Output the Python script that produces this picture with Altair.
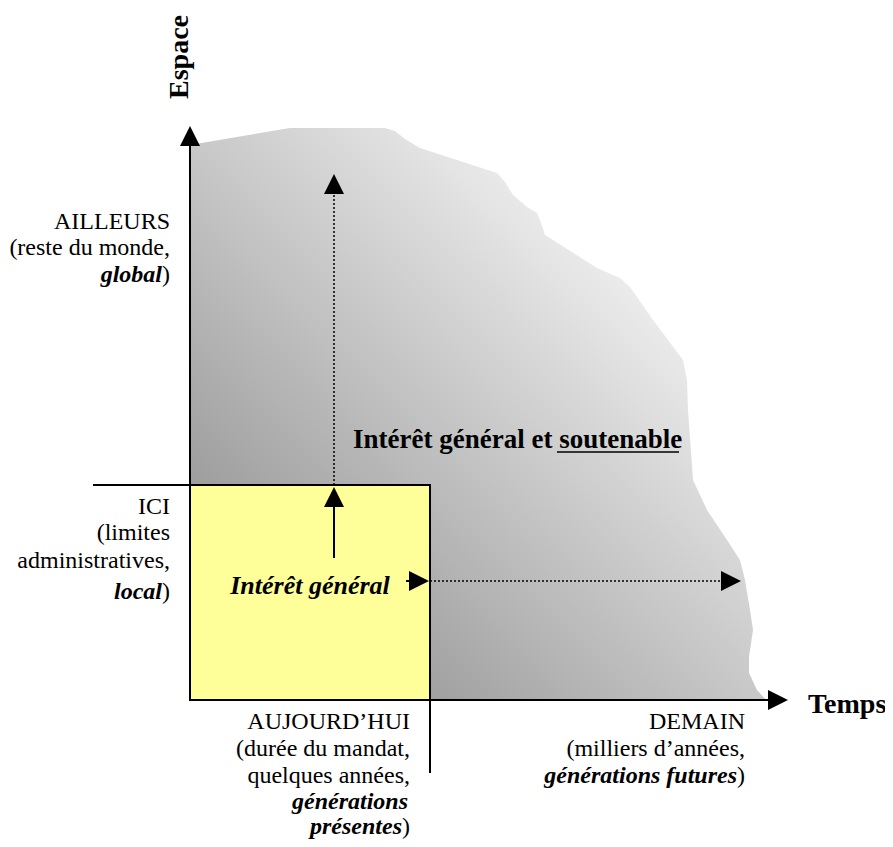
import altair as alt
import pandas as pd

# ---------------- data (time axis "t", space axis "s"; origin = axes crossing) ----------------
# grey region "Intérêt général et soutenable": for each space level s,
# its left edge (t_left) and its irregular right edge (t_right)
region_s = [572, 569, 561, 555, 552, 527, 518, 505, 493, 487, 480, 465, 432, 422, 413,
            380, 340, 320, 290, 220, 190, 160, 140, 120, 90, 70, 43, 27, 10, 0]
region_t_right = [195, 205, 215, 225, 230, 307, 315, 323, 337, 347, 350, 355, 407, 430, 440,
                  463, 493, 497, 498, 503, 517, 537, 550, 555, 560, 563, 559, 559, 567, 576]
region_t_left = [100, 82, 35, 0, 0, 0, 0, 0, 0, 0, 0, 0, 0, 0, 0,
                 0, 0, 0, 0, 0, 0, 0, 0, 0, 0, 0, 0, 0, 0, 0]

# limits of "ici / aujourd'hui" (yellow box)
box_t = [0, 240]
box_s = [0, 215]

# solid segments: axes, separators, solid arrow shafts
solid_t1 = [0, 0, -97, 240, 144, 216]
solid_t2 = [0, 580, 0, 240, 144, 222]
solid_s1 = [0, 0, 215, 0, 142, 119]
solid_s2 = [556, 0, 215, -73, 195, 119]

# dotted segments
dot_t1 = [144, 240]
dot_t2 = [144, 533]
dot_s1 = [215, 119]
dot_s2 = [508, 119]

# arrow heads
up_t = [0, 144, 144]
up_s = [564, 203, 516]
right_t = [588, 229, 541]
right_s = [0, 119, 119]

# texts
reg_text = ["AILLEURS", "(reste du monde,", ")", "ICI", "(limites", "administratives,", ")",
            "AUJOURD\u2019HUI", "(durée du mandat,", "quelques années,", ")",
            "DEMAIN", "(milliers d\u2019années,", ")"]
reg_t = [-20, -20, -20, -20, -20, -20, -20, 220, 220, 220, 220, 555, 555, 555]
reg_s = [478, 452, 425, 193, 167, 139, 108, -22, -49, -76, -127, -22, -49, -76]

bi_text = ["global", "local", "générations", "présentes", "générations futures"]
bi_t = [-28, -28, 218, 212, 547]
bi_s = [425, 108, -102, -127, -76]

bold_left_text = ["Temps", "Intérêt général et soutenable"]
bold_left_t = [618, 163]
bold_left_s = [-5, 260]
bold_left_size = [28, 27]

axis_title = ["Espace"]
axis_title_t = [-10]
axis_title_s = [643]

center_text = ["Intérêt général"]
center_t = [120]
center_s = [114]

underline_t = [367, 489]
underline_s = [248, 248]

# ---------------- chart ----------------
XS = alt.Scale(domain=[-182, 695], nice=False, zero=False)
YS = alt.Scale(domain=[-139, 692], nice=False, zero=False)


def X(f):
    return alt.X(f, type="quantitative", scale=XS, axis=None)


def Y(f):
    return alt.Y(f, type="quantitative", scale=YS, axis=None)


FONT = "Liberation Serif"

region_df = pd.DataFrame({"s": region_s, "tr": region_t_right, "tl": region_t_left})
grad = alt.LinearGradient(
    gradient="linear",
    stops=[alt.GradientStop(color="#838383", offset=0),
           alt.GradientStop(color="#c9c9c9", offset=0.5),
           alt.GradientStop(color="#ececec", offset=0.75),
           alt.GradientStop(color="#f8f8f8", offset=1)],
    x1=0, y1=1, x2=1, y2=0,
)
shape = alt.Chart(region_df).mark_area(color=grad, orient="horizontal").encode(
    y=Y("s"), x=X("tr"), x2="tl"
)

box_df = pd.DataFrame({"t": [box_t[0]], "t2": [box_t[1]], "s": [box_s[0]], "s2": [box_s[1]]})
box = alt.Chart(box_df).mark_rect(fill="#ffff99", stroke="black", strokeWidth=2).encode(
    x=X("t"), x2="t2", y=Y("s"), y2="s2"
)

solid_df = pd.DataFrame({"t": solid_t1, "t2": solid_t2, "s": solid_s1, "s2": solid_s2})
solid = alt.Chart(solid_df).mark_rule(color="black", strokeWidth=2).encode(
    x=X("t"), x2="t2", y=Y("s"), y2="s2"
)

dot_df = pd.DataFrame({"t": dot_t1, "t2": dot_t2, "s": dot_s1, "s2": dot_s2})
dotted = alt.Chart(dot_df).mark_rule(color="black", strokeWidth=1.5, strokeDash=[2, 2]).encode(
    x=X("t"), x2="t2", y=Y("s"), y2="s2"
)

up_df = pd.DataFrame({"t": up_t, "s": up_s})
up = alt.Chart(up_df).mark_point(shape="M0,-1L1,1L-1,1Z", size=400, filled=True, color="black",
                                 opacity=1, strokeWidth=0).encode(x=X("t"), y=Y("s"))

right_df = pd.DataFrame({"t": right_t, "s": right_s})
right = alt.Chart(right_df).mark_point(shape="M1,0L-1,1L-1,-1Z", size=400, filled=True, color="black",
                                       opacity=1, strokeWidth=0).encode(x=X("t"), y=Y("s"))

reg_df = pd.DataFrame({"text": reg_text, "t": reg_t, "s": reg_s})
reg = alt.Chart(reg_df).mark_text(font=FONT, fontSize=24, align="right", baseline="middle",
                                  color="black").encode(x=X("t"), y=Y("s"), text="text:N")

bi_df = pd.DataFrame({"text": bi_text, "t": bi_t, "s": bi_s})
bi = alt.Chart(bi_df).mark_text(font=FONT, fontSize=24, fontWeight="bold", fontStyle="italic",
                                align="right", baseline="middle", color="black").encode(
    x=X("t"), y=Y("s"), text="text:N")

bl_df = pd.DataFrame({"text": bold_left_text, "t": bold_left_t, "s": bold_left_s, "fs": bold_left_size})
bl = alt.Chart(bl_df).mark_text(font=FONT, fontWeight="bold", align="left", baseline="middle",
                                color="black").encode(
    x=X("t"), y=Y("s"), text="text:N", size=alt.Size("fs:Q", scale=None, legend=None))

at_df = pd.DataFrame({"text": axis_title, "t": axis_title_t, "s": axis_title_s})
at = alt.Chart(at_df).mark_text(font=FONT, fontSize=28, fontWeight="bold", align="center",
                                baseline="middle", angle=270, color="black").encode(
    x=X("t"), y=Y("s"), text="text:N")

ct_df = pd.DataFrame({"text": center_text, "t": center_t, "s": center_s})
ct = alt.Chart(ct_df).mark_text(font=FONT, fontSize=26, fontWeight="bold", fontStyle="italic",
                                align="center", baseline="middle", color="black").encode(
    x=X("t"), y=Y("s"), text="text:N")

ul_df = pd.DataFrame({"t": [underline_t[0]], "t2": [underline_t[1]],
                      "s": [underline_s[0]], "s2": [underline_s[1]]})
ul = alt.Chart(ul_df).mark_rule(color="black", strokeWidth=1.5).encode(
    x=X("t"), x2="t2", y=Y("s"), y2="s2"
)

chart = alt.layer(shape, box, solid, dotted, up, right, reg, bi, bl, at, ct, ul).properties(
    width=877, height=831, padding=0, autosize=alt.AutoSizeParams(type="none"),
    background="white",
).configure_view(stroke=None)

chart.save("out.html", embed_options={"renderer": "svg", "actions": False})
